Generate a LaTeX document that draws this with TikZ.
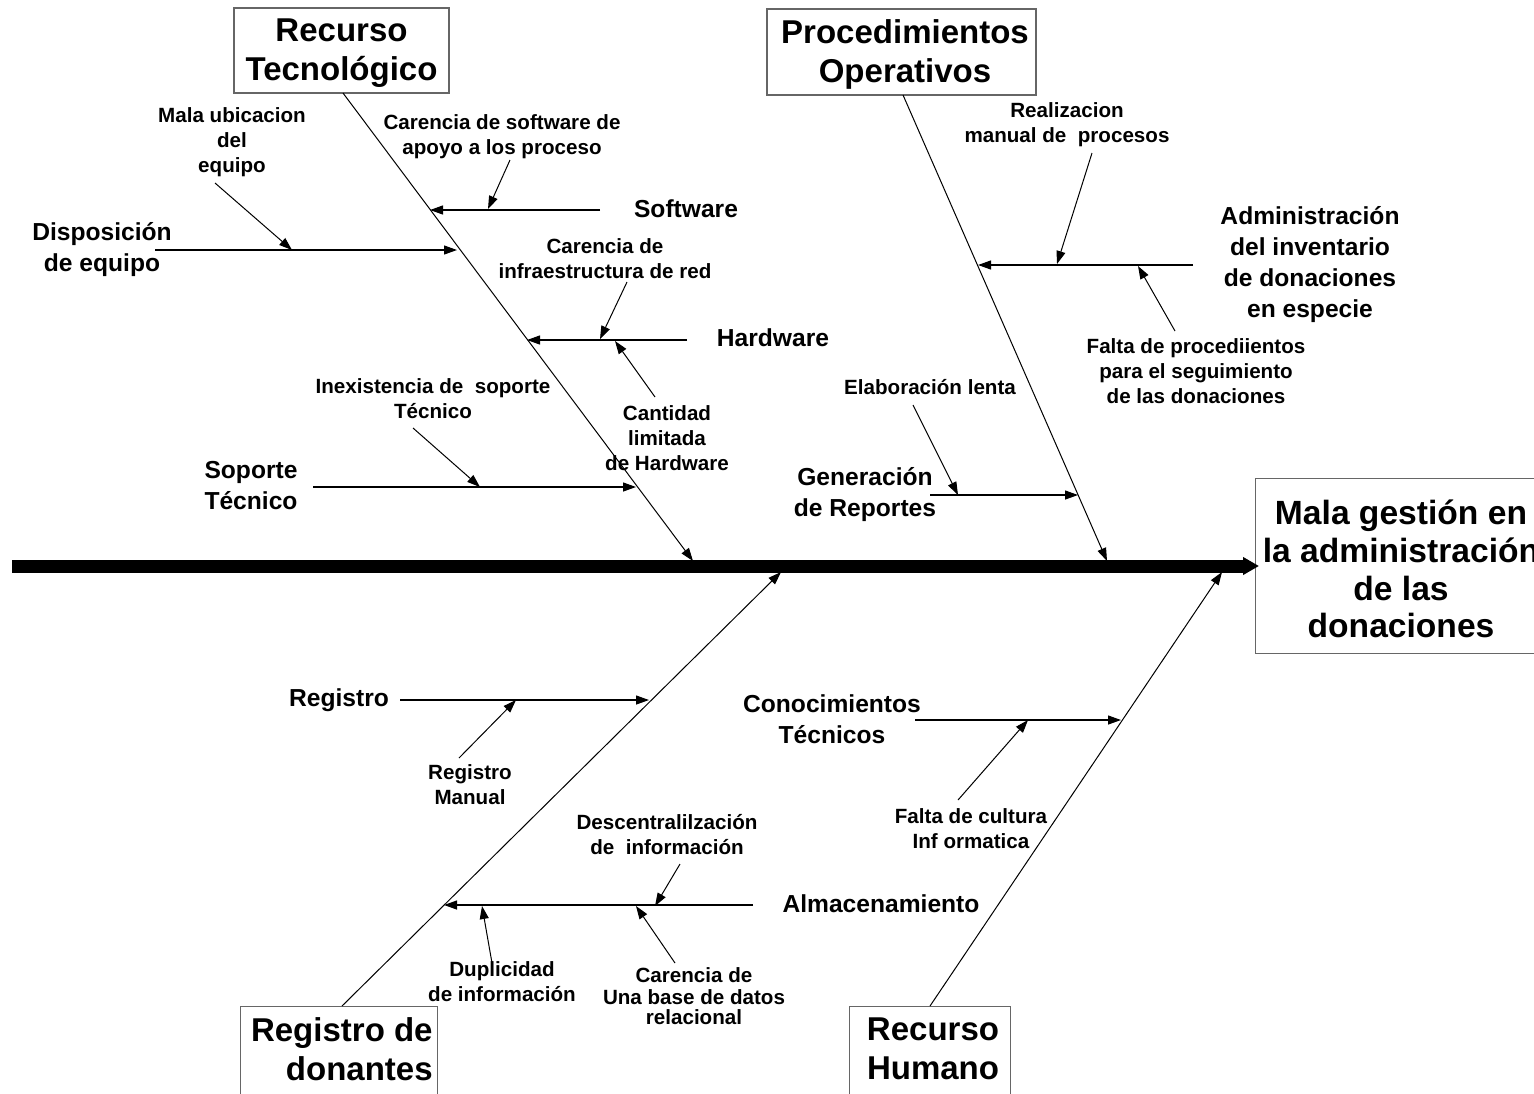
\documentclass[tikz,border=0pt]{standalone}
\usepackage{fontspec}
\setmainfont{Liberation Sans}
\usetikzlibrary{arrows.meta}
\begin{document}
\begin{tikzpicture}[x=0.5pt,y=-0.5pt,
  tip/.style={-{Triangle[length=6.5pt,width=4.5pt]}},
  cause/.style={line width=0.5pt, tip},
  branch/.style={line width=0.6pt, tip},
  bone/.style={line width=0.5pt, tip},
  spine/.style={line width=6.5pt, -{Triangle[length=8pt,width=8.5pt]}},
  box/.style={draw=black!60, line width=0.7pt, inner sep=0pt},
  bigtxt/.style={font=\fontsize{16.5}{19.5}\selectfont\bfseries, align=center, inner sep=0pt},
  midtxt/.style={font=\fontsize{12.3}{15.5}\selectfont\bfseries, align=center, inner sep=0pt},
  smalltxt/.style={font=\fontsize{10.3}{12.5}\selectfont\bfseries, align=center, inner sep=0pt},
]
\useasboundingbox (0,0) rectangle (1534,1093);

% ---------- head boxes ----------
\node[box, minimum width=107.5pt, minimum height=42.5pt] (rt) at (341.5,50.5) {};
\node[bigtxt] (rtxt) at (341.5,53) {Recurso\\Tecnológico};
\node[box, minimum width=134.5pt, minimum height=43pt] (po) at (901.5,52) {};
\node[bigtxt] (potxt) at (905,54) {Procedimientos\\Operativos};
\node[box, minimum width=98.5pt, minimum height=50pt, anchor=north west] (rd) at (240,1006) {};
\node[bigtxt, align=right, anchor=east] (rdtxt) at (433,1049) {Registro de\\donantes};
\node[box, minimum width=80.5pt, minimum height=50pt, anchor=north west] (rh) at (849,1006) {};
\node[bigtxt] (rhtxt) at (933,1049) {Recurso\\Humano};
\node[box, minimum width=200pt, minimum height=87.5pt, anchor=north west] (ef) at (1255,478) {};
\node[bigtxt, font=\fontsize{16.8}{18.9}\selectfont\bfseries] (eftxt) at (1401,569) {Mala gestión en\\la administración\\de las\\donaciones};

% ---------- spine ----------
\coordinate (spL) at (12,566);
\coordinate (spR) at (1259,566);
\draw[spine] (spL) -- (spR);

% ---------- main bones ----------
\coordinate (rtS) at (343,93);   \coordinate (rtE) at (693,561);
\coordinate (poS) at (903,95);   \coordinate (poE) at (1107,561);
\coordinate (rdS) at (342,1006); \coordinate (rdE) at (781,572);
\coordinate (rhS) at (930,1006); \coordinate (rhE) at (1222,572);
\draw[bone] (rtS) -- (rtE);
\draw[bone] (poS) -- (poE);
\draw[bone] (rdS) -- (rdE);
\draw[bone] (rhS) -- (rhE);

% ---------- Recurso Tecnologico ----------
\node[midtxt] (sw) at (686,209) {Software};
\coordinate (swA) at (600,210); \coordinate (swB) at (430,210);
\draw[branch] (swA) -- (swB);
\node[smalltxt] (c1) at (502,137) {Carencia de software de\\apoyo a los proceso};
\coordinate (c1a) at (510,160); \coordinate (c1b) at (488,209);
\draw[cause] (c1a) -- (c1b);

\node[midtxt] (dq) at (102,250) {Disposición\\de equipo};
\coordinate (dqA) at (155,250); \coordinate (dqB) at (457,250);
\draw[branch] (dqA) -- (dqB);
\node[smalltxt] (c2) at (232,142) {Mala ubicacion\\del\\equipo};
\coordinate (c2a) at (215,183); \coordinate (c2b) at (292,250);
\draw[cause] (c2a) -- (c2b);

\node[midtxt] (hw) at (773,338) {Hardware};
\coordinate (hwA) at (687,340); \coordinate (hwB) at (527,340);
\draw[branch] (hwA) -- (hwB);
\node[smalltxt] (c3) at (605,259) {Carencia de\\infraestructura de red};
\coordinate (c3a) at (627,282); \coordinate (c3b) at (600,339);
\draw[cause] (c3a) -- (c3b);
\node[smalltxt] (c4) at (667,438) {Cantidad\\limitada\\de Hardware};
\coordinate (c4a) at (655,397); \coordinate (c4b) at (615,341);
\draw[cause] (c4a) -- (c4b);

\node[midtxt] (st) at (251,486) {Soporte\\Técnico};
\coordinate (stA) at (313,487); \coordinate (stB) at (636,487);
\draw[branch] (stA) -- (stB);
\node[smalltxt] (c5) at (433,399) {Inexistencia de\ \ soporte\\Técnico};
\coordinate (c5a) at (413,428); \coordinate (c5b) at (480,487);
\draw[cause] (c5a) -- (c5b);

% ---------- Procedimientos Operativos ----------
\node[midtxt] (ai) at (1310,265) {Administración\\del inventario\\de donaciones\\en especie};
\coordinate (aiA) at (1193,265); \coordinate (aiB) at (978,265);
\draw[branch] (aiA) -- (aiB);
\node[smalltxt] (c6) at (1067,125) {Realizacion\\manual de\ \ procesos};
\coordinate (c6a) at (1092,153); \coordinate (c6b) at (1057,264);
\draw[cause] (c6a) -- (c6b);
\node[smalltxt] (c7) at (1196,371) {Falta de procediientos\\para el seguimiento\\de las donaciones};
\coordinate (c7a) at (1175,331); \coordinate (c7b) at (1138,266);
\draw[cause] (c7a) -- (c7b);

\node[midtxt] (gr) at (865,495) {Generación\\de Reportes};
\coordinate (grA) at (930,495); \coordinate (grB) at (1078,495);
\draw[branch] (grA) -- (grB);
\node[smalltxt] (c8) at (930,387) {Elaboración lenta};
\coordinate (c8a) at (913,405); \coordinate (c8b) at (958,495);
\draw[cause] (c8a) -- (c8b);

% ---------- Registro de donantes ----------
\node[midtxt] (rg) at (339,700) {Registro};
\coordinate (rgA) at (400,700); \coordinate (rgB) at (649,700);
\draw[branch] (rgA) -- (rgB);
\node[smalltxt] (c9) at (470,785) {Registro\\Manual};
\coordinate (c9a) at (459,758); \coordinate (c9b) at (516,700);
\draw[cause] (c9a) -- (c9b);

\node[midtxt] (al) at (881,904) {Almacenamiento};
\coordinate (alA) at (753,905); \coordinate (alB) at (444,905);
\draw[branch] (alA) -- (alB);
\node[smalltxt] (c10) at (667,835) {Descentralilzación\\de\ \ información};
\coordinate (c10a) at (680,864); \coordinate (c10b) at (655,906);
\draw[cause] (c10a) -- (c10b);
\node[smalltxt] (c11) at (502,982) {Duplicidad\\de información};
\coordinate (c11a) at (492,963); \coordinate (c11b) at (482,906);
\draw[cause] (c11a) -- (c11b);
\node[smalltxt] (c12) at (694,996) {Carencia de\\[-1.5pt]Una base de datos\\[-2.5pt]relacional};
\coordinate (c12a) at (675,963); \coordinate (c12b) at (636,906);
\draw[cause] (c12a) -- (c12b);

% ---------- Recurso Humano ----------
\node[midtxt] (ct) at (832,719) {Conocimientos\\Técnicos};
\coordinate (ctA) at (915,720); \coordinate (ctB) at (1121,720);
\draw[branch] (ctA) -- (ctB);
\node[smalltxt] (c13) at (971,829) {Falta de cultura\\Inf ormatica};
\coordinate (c13a) at (958,800); \coordinate (c13b) at (1028,720);
\draw[cause] (c13a) -- (c13b);

\end{tikzpicture}
\end{document}
